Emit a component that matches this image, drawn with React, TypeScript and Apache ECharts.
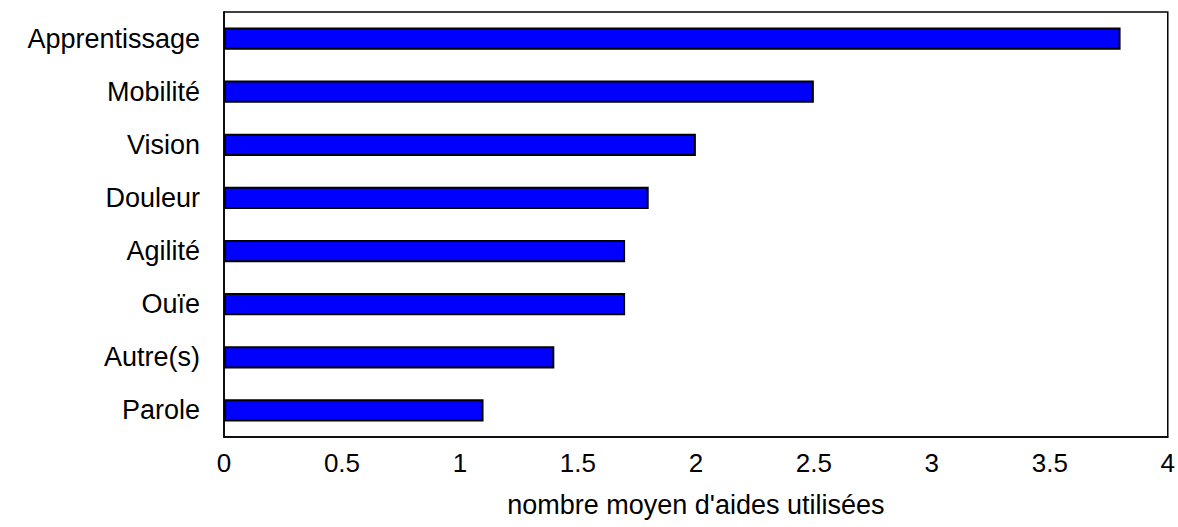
import React, { useEffect, useRef } from "react";
import * as echarts from "echarts";

const categories = ["Apprentissage", "Mobilité", "Vision", "Douleur", "Agilité", "Ouïe", "Autre(s)", "Parole"];
const values = [3.8, 2.5, 2.0, 1.8, 1.7, 1.7, 1.4, 1.1];
const axisTitle = "nombre moyen d'aides utilisées";

const FONT = "'Liberation Sans', Arial, Helvetica, sans-serif";

export default function App() {
  const ref = useRef<HTMLDivElement>(null);
  useEffect(() => {
    if (!ref.current) return;
    const chart = echarts.init(ref.current, null, { renderer: "svg" });
    chart.setOption({
      animation: false,
      backgroundColor: "#ffffff",
      grid: {
        left: 224,
        right: 10,
        top: 12,
        bottom: 90,
        show: true,
        borderColor: "#000",
        borderWidth: 1.5,
        backgroundColor: "transparent",
      },
      xAxis: {
        type: "value",
        min: 0,
        max: 4,
        interval: 0.5,
        name: axisTitle,
        nameLocation: "middle",
        nameGap: 54,
        nameTextStyle: { color: "#000", fontSize: 27, fontFamily: FONT },
        axisLine: { show: true, lineStyle: { color: "#000", width: 1.5 } },
        axisTick: { show: false },
        splitLine: { show: false },
        axisLabel: { color: "#000", fontSize: 26, fontFamily: FONT, margin: 13 },
      },
      yAxis: {
        type: "category",
        data: categories,
        inverse: true,
        axisLine: { show: true, lineStyle: { color: "#000", width: 1.5 } },
        axisTick: { show: false },
        splitLine: { show: false },
        axisLabel: { color: "#000", fontSize: 27, fontFamily: FONT, margin: 24 },
      },
      series: [
        {
          type: "bar",
          data: values,
          barWidth: "42%",
          itemStyle: { color: "#0000ff", borderColor: "#000", borderWidth: 2 },
        },
      ],
    });
    return () => chart.dispose();
  }, []);
  return <div ref={ref} style={{ width: 1178, height: 527, position: "absolute", left: 0, top: 0 }} />;
}
